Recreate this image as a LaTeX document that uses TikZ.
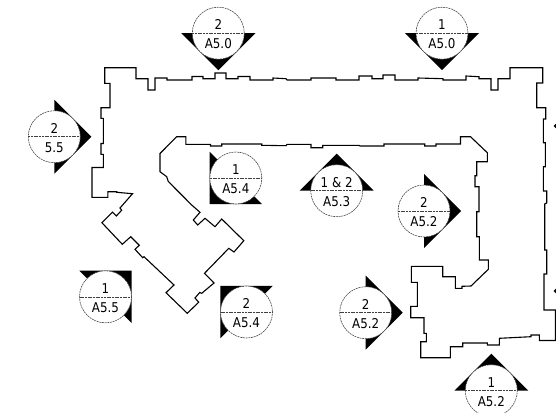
\documentclass[tikz,border=0pt]{standalone}
\usepackage{fontspec}
\setmainfont[FakeStretch=0.88]{DejaVu Sans}
\tikzset{
  wall/.style={draw=black,line width=1.1pt,line join=miter},
  ring/.style={draw=black!75,line width=0.55pt,fill=white,dash pattern=on 2pt off 0.7pt},
  divider/.style={draw=black!75,line width=0.6pt,dash pattern=on 2pt off 0.7pt},
  wedge/.style={fill=black,draw=none},
  tag/.style={inner sep=0pt,font=\fontsize{13.5}{13.5}\selectfont}
}
% centre x, centre y, direction of the wedge's apex, number, sheet, name
\newcommand{\viewmarker}[6]{%
  \begin{scope}[shift={(#1,#2)}]
    \fill[wedge] ({#3-90}:37) -- (#3:37) -- ({#3+90}:37) -- cycle;
    \draw[ring] (0,0) circle[radius=26pt];
    \draw[divider] (-26,0) -- (26,0);
    \node[tag] (#6n) at (0,-8.5) {#4};
    \node[tag] (#6s) at (0,10.8) {#5};
  \end{scope}}
\begin{document}
\begin{tikzpicture}[x=1pt,y=-1pt]
\useasboundingbox (0,0) rectangle (556,412);
\clip (0,0) rectangle (556,412);
\draw[wall] (104.7,67.7) -- (136,67.7) -- (136,78.7) -- (148,78.7) -- (148,90) -- (155,90) -- (155,78) -- (167,78) -- (167,80) -- (192,80) -- (192,76.5) -- (203,76.5) -- (203,78.7) -- (215,78.7) -- (215,73) -- (226,73) -- (226,78.7) -- (238,78.7) -- (238,76.5) -- (250,76.5) -- (250,80) -- (273,80) -- (273,78) -- (286,78.7) -- (287,80) -- (311,80) -- (311,78) -- (336,78) -- (336,80) -- (359,80) -- (359,76) -- (372,76) -- (372,78.7) -- (383,78.7) -- (383,75) -- (395,75) -- (395,80) -- (418,80) -- (418,78) -- (443,78.7) -- (443,80) -- (466,80) -- (466,76) -- (479,76.7) -- (479,78.7) -- (491,78.7) -- (491,90) -- (498,90) -- (498,78.7) -- (510,78.7) -- (510,67.7) -- (542.7,67.7) -- (542.7,83) -- (536.7,83) -- (536.7,107.7) -- (545.7,107.7) -- (545.7,119) -- (543.3,119) -- (543.3,142.7) -- (545.3,142.7) -- (545.3,166.7) -- (543.3,166.7) -- (543.3,191) -- (546.7,191) -- (546.7,203) -- (544.7,204) -- (544.7,250) -- (546.7,250) -- (546.7,274) -- (544,274) -- (544,310) -- (555.3,310) -- (555.3,340.5) -- (539.3,340.5) -- (539.3,335) -- (531,335) -- (531,336.7) -- (499.3,338.3) -- (499.3,345) -- (487.3,345) -- (487.3,343) -- (462.7,343) -- (462.7,346.7) -- (450.3,346.7) -- (450.3,357.7) -- (420.7,357.7) -- (420.7,341.7) -- (426.3,341.7) -- (426.3,333.3) -- (424,333.3) -- (424,317.7) -- (410.7,317.7) -- (410.7,306.3) -- (417.3,306.3) -- (417.3,282.3) -- (411.3,282.3) -- (411.3,266.3) -- (442.7,266.3) -- (442.7,276.7) -- (455.3,276.7) -- (455.3,288.3) -- (462,288.3) -- (462,286.3) -- (471,286) -- (488.3,269.3) -- (488.3,260) -- (479.3,260) -- (479.3,236.7) -- (476.7,236.7) -- (476.7,211.7) -- (479,211.7) -- (479,186.7) -- (475,186.7) -- (475,175.7) -- (476.7,175.7) -- (476.7,161.7) -- (487.3,161.7) -- (487.3,152.7) -- (470.5,136.7) -- (460.5,136.7) -- (460.5,144) -- (436,144) -- (436,146) -- (424.7,146) -- (424.7,144) -- (384,144) -- (384,146) -- (360,146) -- (359,145.3) -- (322.7,145.3) -- (322.7,147.7) -- (311,147.7) -- (311,144.3) -- (287,144.3) -- (286,145.7) -- (261.7,145.3) -- (261.7,144) -- (221.7,144) -- (221.7,146) -- (210.5,146) -- (210.5,144.3) -- (185.8,144.3) -- (185.8,136.7) -- (176.7,136.7) -- (160,153.5) -- (160,171.7) -- (166.7,176.7) -- (168.3,181.5) -- (191.7,205) -- (200,212.3) -- (193.3,220) -- (197.7,225) -- (205,218.3) -- (215,226.7) -- (221.7,219) -- (243.8,240.7) -- (234,252) -- (228.8,248.3) -- (204.5,273.3) -- (214,283) -- (201.7,293.3) -- (199.7,292.5) -- (195,298) -- (198.7,302.2) -- (187.3,313.3) -- (166,292.7) -- (174,285) -- (144,256.7) -- (142.7,257.7) -- (135,249.3) -- (139.3,245.3) -- (130.7,236.7) -- (122.3,244.3) -- (101.9,222.7) -- (112.5,212.2) -- (116.3,216) -- (121.7,210.2) -- (120,208) -- (132.5,193.7) -- (116.7,192.3) -- (116.7,191.7) -- (107.8,191.7) -- (107.8,197.3) -- (92,197.3) -- (92,167.5) -- (103.3,167.5) -- (103.3,154.3) -- (101,154.3) -- (101,143.5) -- (103.3,143.5) -- (103.3,118.3) -- (101,118.3) -- (101,107.7) -- (110,107.7) -- (110,83.3) -- (104.7,83.3) -- cycle;
\viewmarker{218.3}{33.2}{90}{2}{A5.0}{ma}
\viewmarker{442}{33.2}{90}{1}{A5.0}{mb}
\viewmarker{54.3}{136.7}{0}{2}{5.5}{mc}
\viewmarker{235.8}{178}{135}{1}{A5.4}{md}
\viewmarker{336.7}{190.7}{-90}{1 \& 2}{A5.3}{me}
\viewmarker{424}{211}{0}{2}{A5.2}{mf}
\viewmarker{365.7}{312.7}{0}{2}{A5.2}{mg}
\viewmarker{491.3}{390.7}{-90}{1}{A5.2}{mh}
\viewmarker{105.5}{296.8}{-45}{1}{A5.5}{mi}
\viewmarker{246.5}{312}{-135}{2}{A5.4}{mj}
\fill[wedge] (553.5,126) -- (556,123.5) -- (556,128.5) -- cycle;
\fill[wedge] (553.5,291) -- (556,288.5) -- (556,293.5) -- cycle;
\end{tikzpicture}
\end{document}
